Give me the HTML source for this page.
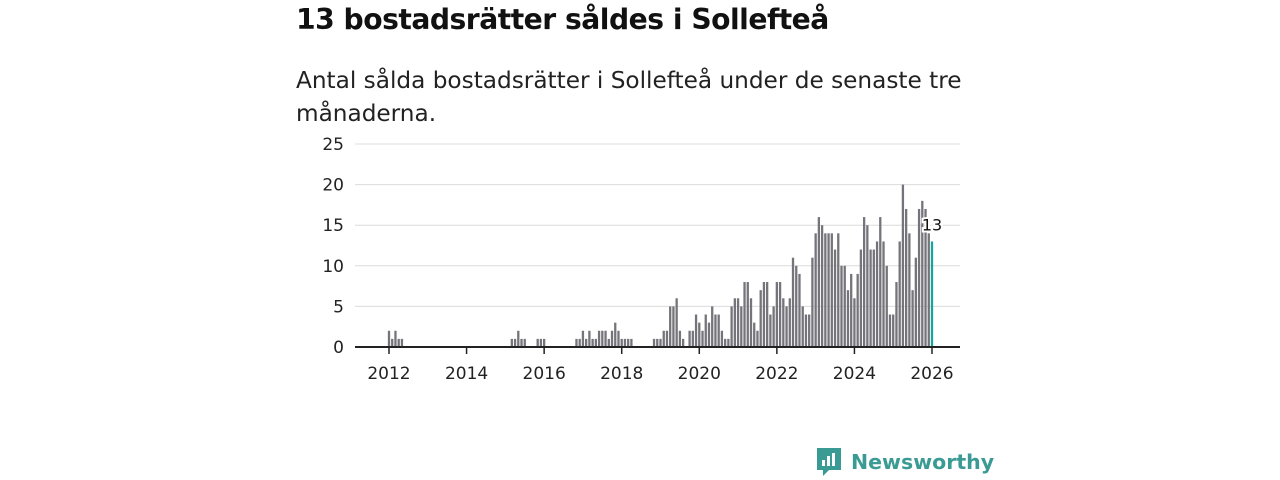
<!DOCTYPE html>
<html><head><meta charset="utf-8"><style>
body{margin:0;width:1280px;height:480px;background:#fff;overflow:hidden;font-family:"Liberation Sans","DejaVu Sans",sans-serif;}
</style></head><body>
<div style="position:absolute;left:296px;top:3px;font-size:28.2px;font-weight:bold;color:#111;font-family:'DejaVu Sans','Liberation Sans',sans-serif;letter-spacing:-0.5px">13 bostadsrätter såldes i Sollefteå</div>
<div style="position:absolute;left:296px;top:64px;width:700px;font-size:23.2px;line-height:33px;color:#222;font-family:'DejaVu Sans','Liberation Sans',sans-serif;">Antal sålda bostadsrätter i Sollefteå under de senaste tre månaderna.</div>
<svg id="chart" width="1280" height="480" style="position:absolute;left:0;top:0"></svg>
<div style="position:absolute;left:815px;top:446px;height:32px;display:flex;align-items:center;color:#3a9a94;font-size:20.5px;font-weight:bold;font-family:'DejaVu Sans','Liberation Sans',sans-serif;">
<svg width="28" height="32" viewBox="0 0 28 32"><path d="M2 2h24v22H14l-6 6v-6H2z" fill="#3a9a94"/><rect x="7" y="14" width="3" height="6" fill="#fff"/><rect x="12" y="10" width="3" height="10" fill="#fff"/><rect x="17" y="7" width="3" height="13" fill="#fff"/></svg>
<span style="margin-left:8px">Newsworthy</span></div>
<script>
const startYear = 2012;
const yTicks = [0,5,10,15,20,25];
const xTickYears = [2012,2014,2016,2018,2020,2022,2024,2026];
const seg2012 = [2,1,2,1,1];           // from month 0
const seg2015 = [1,1,2,1,1];           // from month 38
const seg2016 = [1,1,1];               // from month 46
const seg2017 = [1,1,2,1,2,1,1,2,2,2,1,2,3,2,1,1,1,1]; // from month 58
const seg2019 = [1,1,1,2,2,5,5,6,2,1]; // from month 82
const seg2020 = [2,2,4,3,2,4,3,5,4,4,2,1,1,5,6,6,5,8,8,6,3,2,7,8,8,4,5,8,8,6,5,6,11,10,9,5,4,4,11,14,16,15,14,14,14,12,14,10,10,7,9,6,9,12,16,15,12,12,13,16,13,10,4,4,8,13,20,17,14,7,11,17,18,17,14,13]; // from month 93
const segStarts = [0,38,46,58,82,93];
const values = new Array(169).fill(0);
[seg2012,seg2015,seg2016,seg2017,seg2019,seg2020].forEach((s,i)=>s.forEach((v,j)=>{values[segStarts[i]+j]=v;}));
const NS="http://www.w3.org/2000/svg";
const svg=document.getElementById('chart');
const x0=389, pxMonth=(932-389)/168, y0=347, pxUnit=(347-144)/25;
const xs=m=>x0+m*pxMonth, ys=v=>y0-v*pxUnit;
function mk(t,a){const e=document.createElementNS(NS,t);for(const k in a)e.setAttribute(k,a[k]);svg.appendChild(e);return e;}
yTicks.forEach(t=>{
  if(t>0){const g=mk('line',{x1:355,x2:960,y1:ys(t),y2:ys(t),stroke:'#dcdcdc','stroke-width':1});
  
  }
  const l=mk('text',{x:344,y:ys(t)+6,'text-anchor':'end','font-size':17,fill:'#222','font-family':'DejaVu Sans, Liberation Sans, sans-serif'});
  l.textContent=t;
  
  
});
values.forEach((v,m)=>{
  if(v<=0)return;
  const last=m===values.length-1;
  const r=mk('rect',{x:xs(m)-1.15,y:ys(v),width:2.3,height:v*pxUnit,fill:last?'#1aa39a':'#75747a'});
  
  
});
const base=mk('line',{x1:355,x2:960,y1:y0,y2:y0,stroke:'#222','stroke-width':2});


xTickYears.forEach(yr=>{
  const x=xs((yr-startYear)*12);
  const t=mk('line',{x1:x,x2:x,y1:y0,y2:y0+7,stroke:'#222','stroke-width':1.5});
  
  
  const l=mk('text',{x:x,y:379,'text-anchor':'middle','font-size':17,fill:'#222','font-family':'DejaVu Sans, Liberation Sans, sans-serif'});
  l.textContent=yr;
  
  
});
const lv=values[values.length-1];
const lab=mk('text',{x:xs(values.length-1)+0,y:ys(lv)-11,'text-anchor':'middle','font-size':16,fill:'#111',stroke:'#fff','stroke-width':4,'paint-order':'stroke','font-family':'DejaVu Sans, Liberation Sans, sans-serif'});
lab.textContent=lv;


</script>
</body></html>
